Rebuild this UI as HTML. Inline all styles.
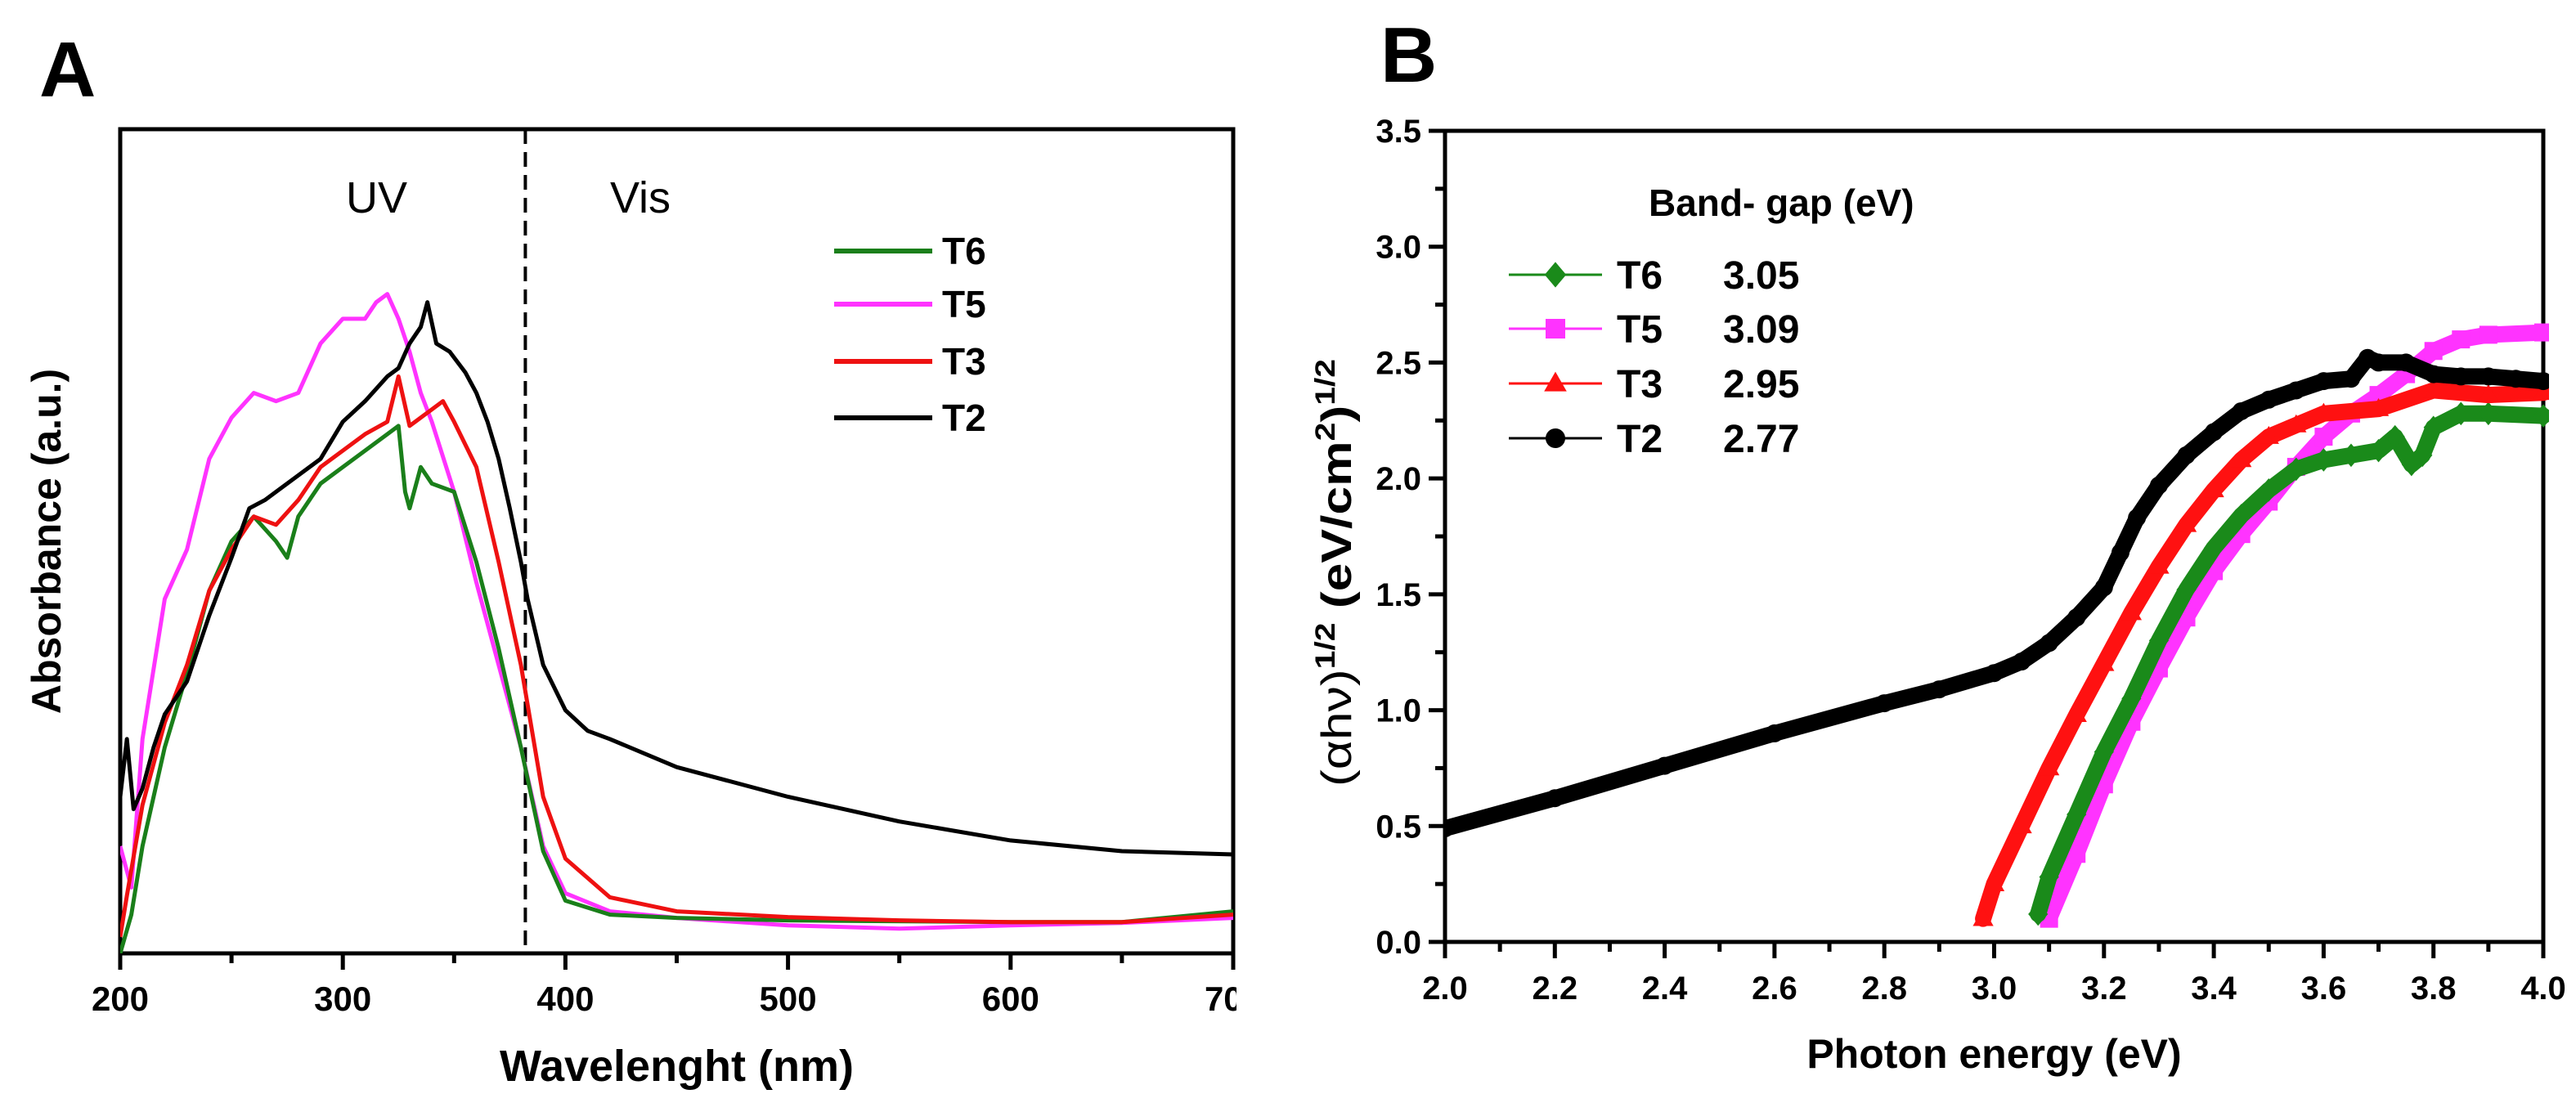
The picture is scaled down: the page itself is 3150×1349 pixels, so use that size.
<!DOCTYPE html>
<html><head><meta charset="utf-8"><style>
html,body{margin:0;padding:0;background:#fff;}
svg{display:block;font-family:"Liberation Sans",Arial,sans-serif;}
</style></head><body>
<svg id="fig" width="3150" height="1349" viewBox="0 0 3150 1349">
<defs><clipPath id="clipA"><rect x="0" y="0" width="1512" height="1349"/></clipPath>
<clipPath id="plotA"><rect x="147" y="158" width="1361" height="1008"/></clipPath>
<clipPath id="plotB"><rect x="1767" y="140" width="1350" height="1012"/></clipPath></defs>
<g id="panelA"></g>
<g id="panelB"></g>
</svg>
<script>
// ---------- Panel A data ----------
const wlT2=[200,203,206,210,215,220,230,240,250,258,265,270,280,290,300,310,320,325,330,335,338,342,348,355,360,365,370,375,380,383,390,400,410,420,450,500,550,600,650,700];
const absT2=[0.19,0.26,0.175,0.20,0.25,0.29,0.33,0.41,0.48,0.54,0.55,0.56,0.58,0.60,0.645,0.67,0.70,0.71,0.74,0.76,0.79,0.74,0.73,0.705,0.68,0.645,0.60,0.54,0.475,0.43,0.35,0.295,0.27,0.26,0.226,0.19,0.16,0.137,0.124,0.12];
const wlT5=[200,205,210,220,230,240,250,260,270,280,290,300,310,315,320,325,330,335,340,350,360,370,380,390,400,420,450,500,550,600,650,700];
const absT5=[0.13,0.08,0.26,0.43,0.49,0.60,0.65,0.68,0.67,0.68,0.74,0.77,0.77,0.79,0.80,0.77,0.73,0.68,0.645,0.56,0.45,0.35,0.25,0.13,0.073,0.051,0.043,0.034,0.03,0.034,0.037,0.043];
const wlT3=[200,203,210,220,230,240,250,260,270,280,290,300,310,320,325,330,340,345,350,360,370,380,390,400,420,450,500,550,600,650,700];
const absT3=[0.02,0.07,0.18,0.28,0.35,0.44,0.49,0.53,0.52,0.55,0.59,0.61,0.63,0.645,0.70,0.64,0.66,0.67,0.645,0.59,0.475,0.35,0.19,0.115,0.068,0.051,0.044,0.04,0.038,0.038,0.047];
const wlT6=[200,205,210,220,230,240,250,260,270,275,280,290,300,310,320,325,328,330,335,340,350,360,370,380,390,400,420,450,500,600,650,700];
const absT6=[0,0.047,0.13,0.25,0.34,0.44,0.50,0.53,0.50,0.48,0.53,0.57,0.59,0.61,0.63,0.64,0.56,0.54,0.59,0.57,0.56,0.475,0.37,0.25,0.124,0.064,0.047,0.043,0.04,0.038,0.038,0.051];
const xTicksA=[200,300,400,500,600,700];
const boundaryWl=382;

// ---------- Panel B data ----------
const eT2=[2.0,2.2,2.4,2.6,2.8,2.9,3.0,3.05,3.1,3.15,3.2,3.23,3.26,3.3,3.35,3.4,3.45,3.5,3.55,3.6,3.65,3.68,3.7,3.75,3.8,3.85,3.9,3.95,4.0];
const vT2=[0.49,0.62,0.76,0.90,1.03,1.09,1.16,1.21,1.29,1.40,1.53,1.68,1.83,1.97,2.10,2.20,2.29,2.34,2.38,2.42,2.43,2.52,2.50,2.50,2.45,2.44,2.44,2.43,2.42];
const eT3=[2.98,3.0,3.05,3.1,3.15,3.2,3.25,3.3,3.35,3.4,3.45,3.5,3.55,3.6,3.7,3.8,3.9,4.0];
const vT3=[0.10,0.25,0.50,0.75,0.98,1.20,1.42,1.62,1.80,1.95,2.08,2.18,2.23,2.28,2.30,2.38,2.36,2.37];
const eT6=[3.08,3.1,3.15,3.2,3.25,3.3,3.35,3.4,3.45,3.5,3.55,3.6,3.65,3.7,3.73,3.76,3.78,3.8,3.85,3.9,4.0];
const vT6=[0.12,0.28,0.55,0.82,1.05,1.30,1.52,1.70,1.84,1.95,2.04,2.08,2.10,2.12,2.18,2.06,2.10,2.22,2.28,2.28,2.27];
const eT5=[3.1,3.15,3.2,3.25,3.3,3.35,3.4,3.45,3.5,3.55,3.6,3.65,3.7,3.75,3.8,3.85,3.9,4.0];
const vT5=[0.10,0.38,0.68,0.95,1.18,1.40,1.60,1.76,1.90,2.05,2.18,2.28,2.36,2.45,2.55,2.60,2.62,2.63];
const xTicksB=["2.0","2.2","2.4","2.6","2.8","3.0","3.2","3.4","3.6","3.8","4.0"];
const yTicksB=["0.0","0.5","1.0","1.5","2.0","2.5","3.0","3.5"];
const gapLabels=["3.05","3.09","2.95","2.77"];

const NS="http://www.w3.org/2000/svg";
function mk(tag,attrs,parent,text){const e=document.createElementNS(NS,tag);for(const k in attrs)e.setAttribute(k,attrs[k]);if(text!==undefined)e.textContent=text;parent.appendChild(e);return e;}

// ---------- Panel A ----------
const A=document.getElementById('panelA');
const AL=147,AR=1508,AT=158,AB=1166;
const xA=w=>AL+(w-200)/500*(AR-AL);
const yA=v=>AB-v*(AB-AT);
let t=mk('text',{x:48,y:118,'font-size':96,'font-weight':'bold'},A,'A');


let fr=mk('rect',{x:AL,y:AT,width:AR-AL,height:AB-AT,fill:'none',stroke:'#000','stroke-width':5},A);


const gTA=mk('g',{'clip-path':'url(#clipA)'},A);


for(let w=200;w<=700;w+=50){const x=xA(w);mk('line',{x1:x,x2:x,y1:AB,y2:AB+(w%100===0?20:12),stroke:'#000','stroke-width':5},gTA);}
xTicksA.forEach(w=>{const tl=mk('text',{x:xA(w),y:1236,'font-size':42,'font-weight':'bold','text-anchor':'middle'},gTA,String(w));

});
t=mk('text',{x:(AL+AR)/2,y:1322,'font-size':54,'font-weight':'bold','text-anchor':'middle'},A,'Wavelenght (nm)');


t=mk('text',{x:0,y:0,'font-size':50,'font-weight':'bold','text-anchor':'middle',transform:`translate(74,${(AT+AB)/2}) rotate(-90)`},A,'Absorbance (a.u.)');


let dl=mk('line',{x1:xA(boundaryWl),x2:xA(boundaryWl),y1:AT,y2:AB,stroke:'#000','stroke-width':4,'stroke-dasharray':'18,10'},A);


t=mk('text',{x:423,y:260,'font-size':54},A,'UV');


t=mk('text',{x:746,y:260,'font-size':54},A,'Vis');


const gA=mk('g',{'clip-path':'url(#plotA)'},A);
const seriesA=[['t6',wlT6,absT6,'#1a7f1a'],['t3',wlT3,absT3,'#ee1111'],['t5',wlT5,absT5,'#ff33ff'],['t2',wlT2,absT2,'#000']];
const drawOrderA=['t5','t6','t3','t2'];
drawOrderA.forEach(n=>{const s=seriesA.find(q=>q[0]===n);
const p=mk('polyline',{points:s[1].map((w,i)=>xA(w)+','+yA(s[2][i])).join(' '),fill:'none',stroke:s[3],'stroke-width':5,'stroke-linejoin':'round'},gA);

});
const legA=[['T6','#1a7f1a',307],['T5','#ff33ff',372],['T3','#ee1111',442],['T2','#000',511]];
legA.forEach(l=>{const g=mk('g',{},A);


mk('line',{x1:1020,x2:1140,y1:l[2],y2:l[2],stroke:l[1],'stroke-width':6},g);
mk('text',{x:1152,y:l[2]+16,'font-size':46,'font-weight':'bold'},g,l[0]);});

// ---------- Panel B ----------
const B=document.getElementById('panelB');
const BL=1767,BR=3110,BT=160,BB=1152;
const xB=e=>BL+(e-2)/2*(BR-BL);
const yB=v=>BB-v/3.5*(BB-BT);
t=mk('text',{x:1688,y:100,'font-size':96,'font-weight':'bold'},B,'B');


const ax=mk('path',{d:`M${BL-20},${BT} H${BR} V${BB} H${BL} V${BT}`,fill:'none',stroke:'#000','stroke-width':5},B);


for(let i=0;i<=20;i++){const x=BL+i*(BR-BL)/20;mk('line',{x1:x,x2:x,y1:BB,y2:BB+(i%2===0?20:12),stroke:'#000','stroke-width':5},B);}
for(let i=0;i<=14;i++){const y=BB-i*(BB-BT)/14;mk('line',{x1:BL,x2:BL-(i%2===0?20:12),y1:y,y2:y,stroke:'#000','stroke-width':5},B);}
xTicksB.forEach(s=>{const tl=mk('text',{x:xB(parseFloat(s)),y:1222,'font-size':40,'font-weight':'bold','text-anchor':'middle'},B,s);

});
yTicksB.forEach(s=>{const tl=mk('text',{x:1738,y:yB(parseFloat(s))+14,'font-size':40,'font-weight':'bold','text-anchor':'end'},B,s);

});
t=mk('text',{x:(BL+BR)/2,y:1306,'font-size':50,'font-weight':'bold','text-anchor':'middle'},B,'Photon energy (eV)');


const yl=mk('text',{x:0,y:0,'font-size':52,'font-weight':'bold','text-anchor':'start',textLength:523,lengthAdjust:'spacingAndGlyphs',transform:`translate(1652,962) rotate(-90)`},B);


yl.innerHTML='<tspan font-weight="normal">(αhν)</tspan><tspan font-size="34" dy="-20">1/2</tspan><tspan dy="20"> (eV/cm</tspan><tspan font-size="34" dy="-20">2</tspan><tspan dy="20">)</tspan><tspan font-size="34" dy="-20">1/2</tspan>';
function marker(g,type,x,y,c,r){
 if(type==='circle')return mk('circle',{cx:x,cy:y,r:r,fill:c},g);
 if(type==='square')return mk('rect',{x:x-r,y:y-r,width:2*r,height:2*r,fill:c},g);
 if(type==='tri')return mk('polygon',{points:`${x},${y-r*1.2} ${x-r*1.15},${y+r*0.8} ${x+r*1.15},${y+r*0.8}`,fill:c},g);
 return mk('polygon',{points:`${x},${y-r*1.3} ${x+r*1.1},${y} ${x},${y+r*1.3} ${x-r*1.1},${y}`,fill:c},g);}
const gB=mk('g',{'clip-path':'url(#plotB)'},B);
const seriesB=[['t5',eT5,vT5,'#ff33ff','square'],['t6',eT6,vT6,'#1a8a1a','diamond'],['t3',eT3,vT3,'#ff1111','tri'],['t2',eT2,vT2,'#000','circle']];
seriesB.forEach(s=>{const g=mk('g',{},gB);


mk('polyline',{points:s[1].map((e,i)=>xB(e)+','+yB(s[2][i])).join(' '),fill:'none',stroke:s[3],'stroke-width':20,'stroke-linejoin':'round','stroke-linecap':'round'},g);
s[1].forEach((e,i)=>marker(g,s[4],xB(e),yB(s[2][i]),s[3],11));});
t=mk('text',{x:2016,y:264,'font-size':46,'font-weight':'bold'},B,'Band- gap (eV)');


const legB=[['T6','#1a8a1a','diamond',336],['T5','#ff33ff','square',402],['T3','#ff1111','tri',469],['T2','#000','circle',536]];
legB.forEach((l,i)=>{const g=mk('g',{},B);


mk('line',{x1:1845,x2:1959,y1:l[3],y2:l[3],stroke:l[1],'stroke-width':3},g);
marker(g,l[2],1902,l[3],l[1],12);
mk('text',{x:1977,y:l[3]+17,'font-size':48,'font-weight':'bold'},g,l[0]);
mk('text',{x:2107,y:l[3]+17,'font-size':48,'font-weight':'bold'},g,gapLabels[i]);});
</script>
</body></html>
